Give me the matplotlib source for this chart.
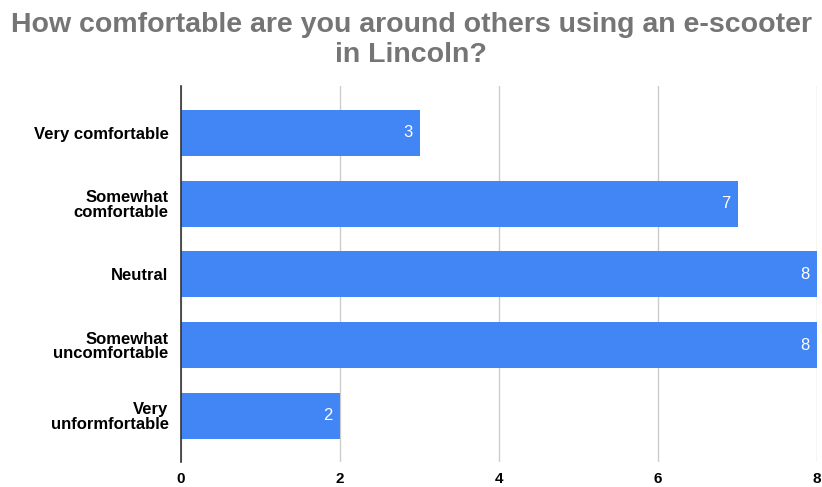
import matplotlib
matplotlib.use("Agg")
import matplotlib.pyplot as plt

categories = ["Very comfortable", "Somewhat\ncomfortable", "Neutral",
              "Somewhat\nuncomfortable", "Very\nunformfortable"]
values = [3, 7, 8, 8, 2]
xticks = [0, 2, 4, 6, 8]

plt.rcParams['font.family'] = ['Liberation Sans', 'DejaVu Sans']

fig = plt.figure(figsize=(8.22, 4.87), dpi=100)
ax = fig.add_axes([181/822, 1 - 462/487, (817-181)/822, (462-86)/487])

pos = list(range(len(categories)))
bars = ax.barh(pos, values, height=0.65, color="#4285F4", zorder=3)
for p, v in zip(pos, values):
    ax.text(v - 0.09, p, str(v), color="white", ha="right", va="center",
            fontsize=12, zorder=4)

ax.set_ylim(4.65, -0.66)
ax.set_xlim(0, 8)
ax.set_xticks(xticks)
ax.set_xticklabels([str(t) for t in xticks], fontweight="bold", fontsize=11)
ax.set_yticks(pos)
ax.set_yticklabels(categories, fontweight="bold", fontsize=12, linespacing=0.98,
                   multialignment="right")
ax.tick_params(axis="y", length=0, pad=9)
ax.tick_params(axis="x", length=0, pad=7)
ax.grid(axis="x", color="#cccccc", linewidth=1, zorder=0)
for s in ["top", "right", "bottom"]:
    ax.spines[s].set_visible(False)
ax.spines["left"].set_color("#333333")
ax.spines["left"].set_linewidth(1.2)
ax.spines["left"].set_zorder(5)

fig.text(0.5, 1 - 40/487, "How comfortable are you around others using an e-scooter\nin Lincoln?",
         ha="center", va="center", fontsize=20.5, fontweight="bold", color="#757575",
         linespacing=1.2)

fig.savefig("out.png", dpi=100)
